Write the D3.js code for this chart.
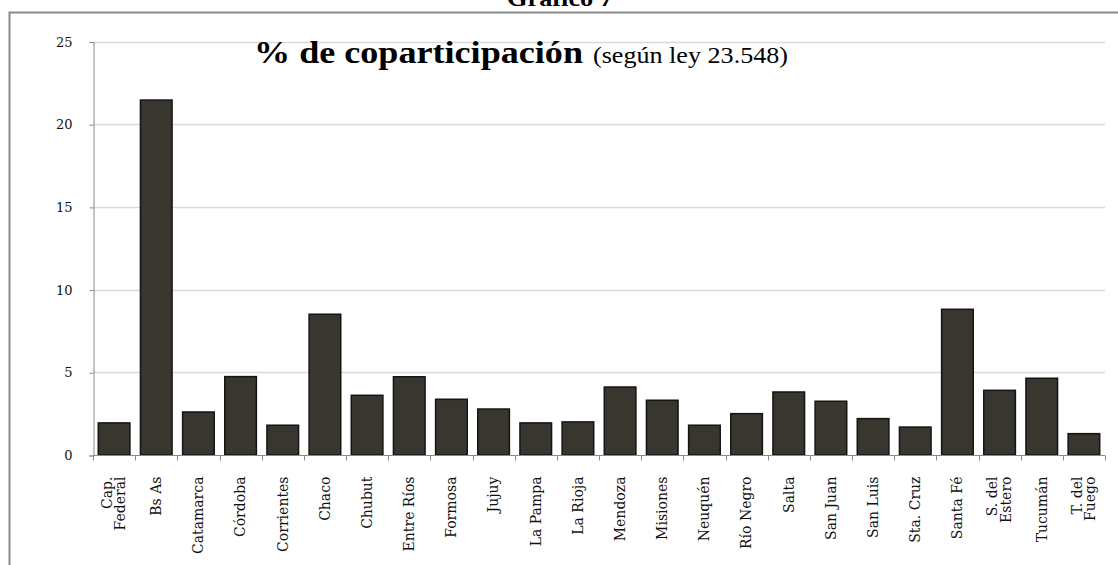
<!DOCTYPE html>
<html>
<head>
<meta charset="utf-8">
<script src="https://cdn.jsdelivr.net/npm/d3@7"></script>
<style>
  body { margin: 0; background: #fff; }
  svg { display: block; }
  .serif { font-family: "Liberation Serif", "Times New Roman", Times, serif; }
  .slab { font-family: "DejaVu Serif", serif; }
</style>
</head>
<body>
<div id="chart"></div>
<script>
var provincias = ["Cap.|Federal", "Bs As", "Catamarca", "Córdoba", "Corrientes", "Chaco", "Chubut",
  "Entre Ríos", "Formosa", "Jujuy", "La Pampa", "La Rioja", "Mendoza", "Misiones", "Neuquén",
  "Río Negro", "Salta", "San Juan", "San Luis", "Sta. Cruz", "Santa Fé", "S. del|Estero",
  "Tucumán", "T. del|Fuego"];
var porcentajes = [1.94, 21.46, 2.60, 4.74, 1.80, 8.51, 3.61, 4.73, 3.37, 2.78, 1.94, 2.00,
  4.11, 3.31, 1.80, 2.50, 3.81, 3.25, 2.20, 1.69, 8.81, 3.91, 4.64, 1.29];
var yTicks = [0, 5, 10, 15, 20, 25];

var width = 1118,
    height = 565;

var margin = {top: 41.5, left: 93, right: 13, bottom: 110};

var svg = d3.select("#chart").append("svg")
    .attr("width", width)
    .attr("height", height);

// frame (cut off at the right and bottom)
svg.append("path")
    .attr("d", "M9.5," + height + "V12.5H" + width)
    .attr("fill", "none")
    .attr("stroke", "#8a8a8a")
    .attr("stroke-width", 2);

svg.append("text")
    .attr("class", "serif")
    .attr("x", 507)
    .attr("y", 6)
    .attr("textLength", 106)
    .attr("lengthAdjust", "spacingAndGlyphs")
    .style("font-weight", "bold")
    .style("font-size", "24px")
    .text("Gráfico 7");

var x = d3.scaleBand()
    .domain(provincias)
    .range([margin.left, width - margin.right])
    .paddingInner(0.25)
    .paddingOuter(0.125);

var y = d3.scaleLinear()
    .domain([0, 25])
    .range([height - margin.bottom, margin.top]);

// grid
svg.append("g")
  .selectAll("line")
    .data(yTicks.slice(1))
    .enter().append("line")
    .attr("x1", margin.left)
    .attr("x2", width - margin.right)
    .attr("y1", function(d) { return Math.round(y(d)) + 0.5; })
    .attr("y2", function(d) { return Math.round(y(d)) + 0.5; })
    .attr("stroke", "#d9d9d9")
    .attr("stroke-width", 1.5);

// y axis
var yAxis = svg.append("g")
    .attr("transform", "translate(" + (margin.left + 0.5) + ",0.5)")
    .call(d3.axisLeft(y).tickValues(yTicks).tickSize(4).tickPadding(17));
yAxis.select(".domain").attr("stroke", "#8a8a8a");
yAxis.selectAll(".tick line").attr("stroke", "#8a8a8a");
yAxis.selectAll(".tick text")
    .attr("class", "slab")
    .style("font-size", "13px")
    .attr("fill", "#111");

// bars
svg.append("g")
  .selectAll("rect")
    .data(porcentajes)
    .enter().append("rect")
    .attr("x", function(d, i) { return x(provincias[i]); })
    .attr("y", function(d) { return y(d); })
    .attr("width", x.bandwidth())
    .attr("height", function(d) { return y(0) - y(d); })
    .attr("fill", "#38362f")
    .attr("stroke", "#141414")
    .attr("stroke-width", 1.5);

// x axis with ticks at band boundaries
var step = x.step();
var xAxis = svg.append("g")
    .attr("transform", "translate(0," + (Math.round(y(0)) + 0.5) + ")");
xAxis.append("line")
    .attr("x1", margin.left)
    .attr("x2", width - margin.right)
    .attr("stroke", "#8a8a8a");
xAxis.selectAll(".tk")
    .data(d3.range(provincias.length + 1))
    .enter().append("line")
    .attr("class", "tk")
    .attr("x1", function(i) { return Math.round(margin.left + i * step) + 0.5; })
    .attr("x2", function(i) { return Math.round(margin.left + i * step) + 0.5; })
    .attr("y2", 5)
    .attr("stroke", "#8a8a8a");

var labels = xAxis.selectAll(".lbl")
    .data(provincias)
    .enter().append("text")
    .attr("class", "lbl slab")
    .attr("text-anchor", "end")
    .attr("transform", function(d) {
      return "translate(" + (x(d) + x.bandwidth() / 2) + ",21) rotate(-90)";
    })
    .style("font-size", "14px")
    .attr("fill", "#111");

labels.each(function(d) {
  var parts = d.split("|");
  var t = d3.select(this);
  parts.forEach(function(p, j) {
    var off = parts.length === 1 ? 0.35 : (j === 0 ? -0.15 : 0.8);
    t.append("tspan")
      .attr("x", 0)
      .attr("y", 0)
      .attr("dy", off + "em")
      .text(p);
  });
});

// inner title
svg.append("text")
    .attr("class", "serif")
    .attr("x", 254)
    .attr("y", 63)
    .attr("textLength", 329)
    .attr("lengthAdjust", "spacingAndGlyphs")
    .style("font-weight", "bold")
    .style("font-size", "32px")
    .text("% de coparticipación");
svg.append("text")
    .attr("class", "serif")
    .attr("x", 593)
    .attr("y", 63)
    .attr("textLength", 195)
    .attr("lengthAdjust", "spacingAndGlyphs")
    .style("font-size", "23px")
    .text("(según ley 23.548)");
</script>
</body>
</html>
